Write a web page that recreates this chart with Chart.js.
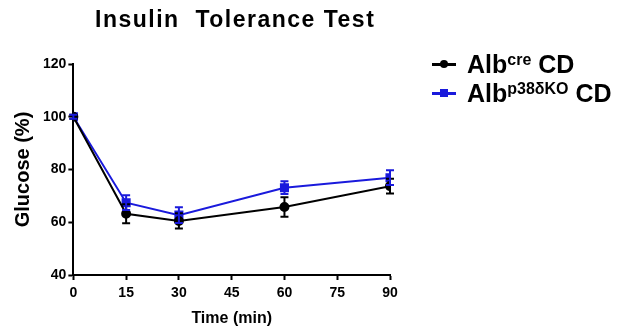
<!DOCTYPE html>
<html lang="en">
  <head>
    <meta charset="UTF-8" />
    <title>Insulin Tolerance Test</title>
    <script src="https://cdn.jsdelivr.net/npm/chart.js"></script>
    <style>
      * {
        margin: 0;
        padding: 0;
        box-sizing: border-box;
        font-family: "Liberation Sans", Arial, sans-serif;
      }

      body {
        background: white;
        width: 624px;
        height: 327px;
        position: relative;
        overflow: hidden;
      }

      .wrap {
        position: absolute;
        left: 0;
        top: 0;
        width: 476px;
        height: 335px;
      }

      .title {
        position: absolute;
        left: 95px;
        top: 6px;
        font-size: 23px;
        font-weight: bold;
        letter-spacing: 1.5px;
        white-space: pre;
        color: #000;
      }

      .legend {
        position: absolute;
        left: 432px;
        top: 50px;
        font-weight: bold;
        font-size: 25px;
        color: #000;
      }

      .legend .row {
        display: flex;
        align-items: center;
        height: 29px;
      }

      .legend sup {
        font-size: 16px;
        vertical-align: 8px;
      }

      .mark {
        position: relative;
        width: 24px;
        height: 3px;
        margin-right: 11px;
      }

      .mark i {
        position: absolute;
        left: 8px;
        top: -3px;
        width: 8px;
        height: 8px;
      }
    </style>
  </head>
  <body>
    <div class="wrap"><canvas id="itt"></canvas></div>
    <div class="title">Insulin  Tolerance Test</div>
    <div class="legend">
      <div class="row">
        <div class="mark" style="background: #000"><i style="background: #000; border-radius: 50%"></i></div>
        <span>Alb<sup>cre</sup> CD</span>
      </div>
      <div class="row">
        <div class="mark" style="background: #1a1adc"><i style="background: #1a1adc"></i></div>
        <span>Alb<sup>p38δKO</sup> CD</span>
      </div>
    </div>

    <script>
      const times = [0, 15, 30, 60, 90];
      const creMean = [100, 63.2, 60.5, 65.8, 73.7];
      const creErr = [0.8, 3.6, 2.9, 3.7, 2.8];
      const koMean = [100, 67.4, 62.7, 73.1, 76.9];
      const koErr = [0.8, 2.8, 3.0, 2.4, 2.8];

      const errorBars = {
        id: "errorBars",
        afterDatasetsDraw(chart) {
          const c = chart.ctx;
          const xs = chart.scales.x;
          const ys = chart.scales.y;
          chart.data.datasets.forEach((ds) => {
            c.save();
            c.strokeStyle = ds.borderColor;
            c.lineWidth = 2;
            ds.data.forEach((p, i) => {
              const x = xs.getPixelForValue(p.x);
              const top = ys.getPixelForValue(p.y + ds.err[i]);
              const bot = ys.getPixelForValue(p.y - ds.err[i]);
              c.beginPath();
              c.moveTo(x, top);
              c.lineTo(x, bot);
              c.moveTo(x - 4, top);
              c.lineTo(x + 4, top);
              c.moveTo(x - 4, bot);
              c.lineTo(x + 4, bot);
              c.stroke();
            });
            c.restore();
          });
        },
      };

      const tickFont = { family: "Liberation Sans", size: 14, weight: "bold" };

      new Chart(document.getElementById("itt"), {
        type: "line",
        data: {
          datasets: [
            {
              label: "Alb cre CD",
              data: times.map((t, i) => ({ x: t, y: creMean[i] })),
              err: creErr,
              borderColor: "#000000",
              backgroundColor: "#000000",
              borderWidth: 2,
              pointStyle: "circle",
              pointRadius: 4,
            },
            {
              label: "Alb p38δKO CD",
              data: times.map((t, i) => ({ x: t, y: koMean[i] })),
              err: koErr,
              borderColor: "#1a1adc",
              backgroundColor: "#1a1adc",
              borderWidth: 2,
              pointStyle: "rect",
              pointRadius: 5,
            },
          ],
        },
        options: {
          responsive: true,
          maintainAspectRatio: false,
          animation: false,
          layout: { padding: { top: 64, right: 86, left: 7, bottom: 3 } },
          plugins: {
            legend: { display: false },
            tooltip: { enabled: false },
          },
          scales: {
            x: {
              type: "linear",
              min: 0,
              max: 90,
              ticks: { stepSize: 15, color: "#000", font: tickFont, padding: 5 },
              grid: { drawOnChartArea: false, color: "#000", tickLength: 5, tickWidth: 2 },
              border: { color: "#000", width: 2 },
              title: {
                display: true,
                text: "Time (min)",
                color: "#000",
                font: { family: "Liberation Sans", size: 16, weight: "bold" },
                padding: { top: 2 },
              },
            },
            y: {
              min: 40,
              max: 120,
              ticks: { stepSize: 20, color: "#000", font: tickFont, padding: 2 },
              grid: { drawOnChartArea: false, color: "#000", tickLength: 5, tickWidth: 2 },
              border: { color: "#000", width: 2 },
              title: {
                display: true,
                text: "Glucose (%)",
                color: "#000",
                font: { family: "Liberation Sans", size: 20, weight: "bold" },
                padding: { bottom: 6 },
              },
            },
          },
        },
        plugins: [errorBars],
      });
    </script>
  </body>
</html>
